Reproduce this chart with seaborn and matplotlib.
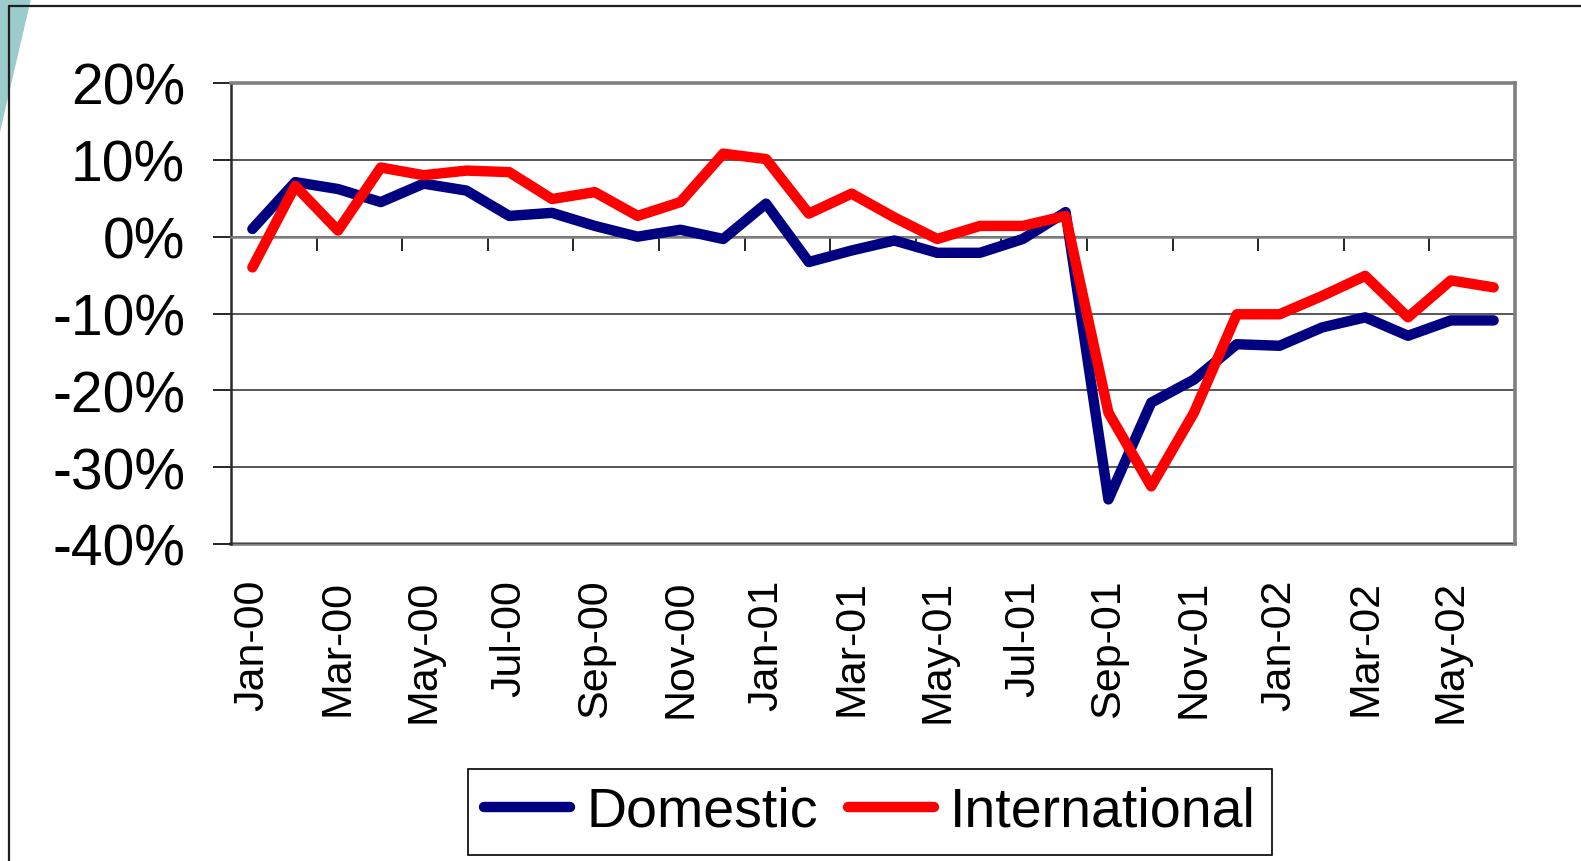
import matplotlib
matplotlib.use("Agg")
import matplotlib.pyplot as plt
import seaborn as sns
import numpy as np
from matplotlib.lines import Line2D
from matplotlib.patches import Polygon
from matplotlib.ticker import FixedLocator, FuncFormatter

# monthly change, Jan-00 .. Jun-02 (percent)
months = ["Jan-00", "Feb-00", "Mar-00", "Apr-00", "May-00", "Jun-00", "Jul-00", "Aug-00",
          "Sep-00", "Oct-00", "Nov-00", "Dec-00", "Jan-01", "Feb-01", "Mar-01", "Apr-01",
          "May-01", "Jun-01", "Jul-01", "Aug-01", "Sep-01", "Oct-01", "Nov-01", "Dec-01",
          "Jan-02", "Feb-02", "Mar-02", "Apr-02", "May-02", "Jun-02"]
domestic = [1.0, 7.1, 6.2, 4.5, 6.9, 6.0, 2.7, 3.1, 1.4, 0.0, 0.9, -0.3, 4.3, -3.3, -1.8,
            -0.5, -2.1, -2.1, -0.3, 3.2, -34.2, -21.6, -18.6, -14.0, -14.2, -11.8, -10.5,
            -12.9, -10.9, -10.9]
international = [-4.0, 6.6, 0.8, 9.0, 8.0, 8.6, 8.4, 4.9, 5.8, 2.7, 4.5, 10.8, 10.1, 3.0,
                 5.6, 2.5, -0.3, 1.4, 1.4, 2.7, -22.9, -32.5, -22.9, -10.1, -10.1, -7.7,
                 -5.1, -10.5, -5.7, -6.6]
y_ticks = [-40, -30, -20, -10, 0, 10, 20]

sns.set_theme(style="white")
plt.rcParams["font.family"] = ["Liberation Sans", "DejaVu Sans"]
plt.rcParams["text.color"] = "black"
plt.rcParams["xtick.color"] = "black"
plt.rcParams["ytick.color"] = "black"
plt.rcParams["xtick.labelcolor"] = "black"
plt.rcParams["ytick.labelcolor"] = "black"

W, H = 1581, 862
fig = plt.figure(figsize=(W / 100, H / 100), dpi=100)
fig.patch.set_facecolor("white")

# slide decoration: teal corner and frame
fig.add_artist(Polygon([(0, 1), (31 / W, 1), (0, 1 - 133 / H)], closed=True,
                       transform=fig.transFigure, facecolor="#9ccbcb", edgecolor="none", zorder=0))
fig.add_artist(Line2D([9 / W, 9 / W], [0, 1 - 7 / H], transform=fig.transFigure,
                      color="#1e1e1e", lw=1.6, zorder=1))
fig.add_artist(Line2D([9 / W, 1], [1 - 7 / H, 1 - 7 / H], transform=fig.transFigure,
                      color="#1e1e1e", lw=1.6, zorder=1))

ax = fig.add_axes([231 / W, 1 - 545 / H, (1515 - 231) / W, (545 - 84) / H])
ax.set_facecolor("white")

x = np.arange(len(months))
sns.lineplot(x=x, y=domestic, color="#000080", linewidth=7.5, ax=ax,
             solid_capstyle="round", solid_joinstyle="round", zorder=4)
sns.lineplot(x=x, y=international, color="#ff0000", linewidth=7.5, ax=ax,
             solid_capstyle="round", solid_joinstyle="round", zorder=5)

ax.set_xlim(-0.5, len(months) - 0.5)
ax.set_ylim(y_ticks[0], y_ticks[-1])

# y axis
ax.set_yticks(y_ticks)
ax.yaxis.set_major_formatter(FuncFormatter(lambda v, p: f"{v:.0f}%"))
ax.tick_params(axis="y", which="major", direction="out", length=13, width=1.2,
               color="black", pad=20, labelsize=41, left=True)
ax.yaxis.grid(True, color="#3a3a3a", linewidth=1.2)
ax.set_axisbelow(True)

# category axis crossing at zero, tick marks between every second month
ax.spines["bottom"].set_position(("data", 0))
ax.spines["bottom"].set_color("#808080")
ax.spines["bottom"].set_linewidth(1.8)
ax.xaxis.set_major_locator(FixedLocator(np.arange(1.5, len(months), 2)))
ax.tick_params(axis="x", which="major", direction="out", length=10, width=1.2,
               color="black", labelbottom=False, bottom=True)

for side in ["top", "right"]:
    ax.spines[side].set_color("#808080")
    ax.spines[side].set_linewidth(2.6)
ax.spines["left"].set_color("#2a2a2a")
ax.spines["left"].set_linewidth(1.8)

# month labels along the bottom of the plot area
sec = ax.secondary_xaxis("bottom")
sec.set_xticks(x[::2], months[::2])
sec.tick_params(axis="x", length=0, pad=25, labelsize=31, labelrotation=90,
                labelcolor="black")
for lbl in sec.get_xticklabels():
    lbl.set_verticalalignment("top")
sec.spines["bottom"].set_color("#808080")
sec.spines["bottom"].set_linewidth(2.6)

handles = [Line2D([], [], color="#000080", lw=7.5, solid_capstyle="round"),
           Line2D([], [], color="#ff0000", lw=7.5, solid_capstyle="round")]
leg = fig.legend(handles, ["Domestic", "International"], loc="center",
                 bbox_to_anchor=(870 / W, 1 - 813 / H), ncol=2, frameon=True,
                 fancybox=False, fontsize=40, handlelength=1.55, handletextpad=0.28,
                 columnspacing=0.55, borderpad=0.3)
leg.get_frame().set_edgecolor("black")
leg.get_frame().set_linewidth(1.2)
leg.get_frame().set_alpha(None)
leg.get_frame().set_facecolor("white")

fig.savefig("out.png", dpi=100, facecolor="white")
